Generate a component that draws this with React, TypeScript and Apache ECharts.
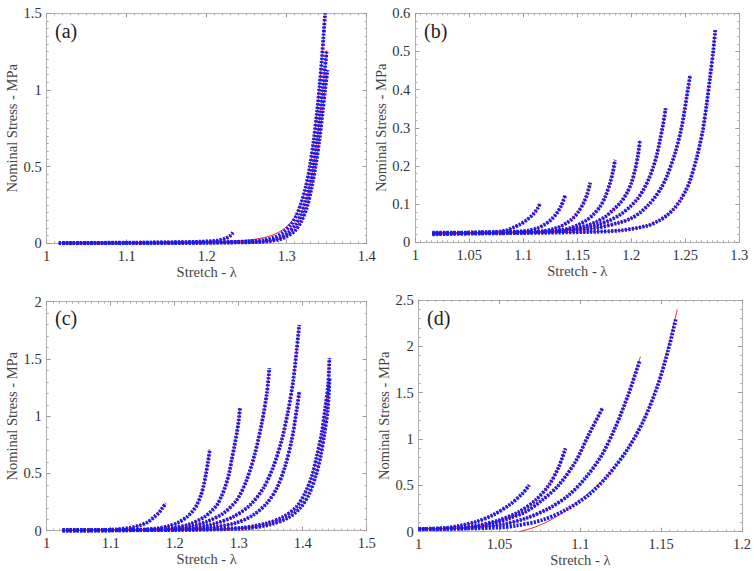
import React, { useEffect, useRef } from "react";
import * as echarts from "echarts";

type Pt = [number, number];

// ---------- Panel (a) ----------
const aXRange = [1, 1.4, 0.1];
const aYRange = [0, 1.5, 0.5];
const aCurve1: Pt[] = [[1.015,0.002],[1.05,0.003],[1.1,0.004],[1.15,0.006],[1.19,0.01],[1.205,0.014],[1.215,0.02],[1.224,0.033],[1.229,0.048],[1.233,0.07]];
const aCurve2: Pt[] = [[1.015,0.001],[1.1,0.003],[1.2,0.006],[1.25,0.012],[1.27,0.02],[1.285,0.04],[1.295,0.07],[1.305,0.12],[1.312,0.18],[1.318,0.26],[1.324,0.37],[1.329,0.5],[1.334,0.68],[1.338,0.86],[1.341,1.02],[1.344,1.2],[1.346,1.35],[1.348,1.5]];
const aCurve3: Pt[] = [[1.02,0.001],[1.1,0.002],[1.2,0.005],[1.26,0.01],[1.28,0.02],[1.293,0.04],[1.302,0.07],[1.311,0.12],[1.318,0.19],[1.324,0.28],[1.329,0.38],[1.333,0.5],[1.338,0.68],[1.342,0.86],[1.345,1.0],[1.348,1.15],[1.35,1.26]];
const aCurve4: Pt[] = [[1.02,0.0],[1.1,0.002],[1.2,0.004],[1.27,0.01],[1.29,0.025],[1.3,0.045],[1.31,0.08],[1.318,0.14],[1.325,0.23],[1.331,0.36],[1.336,0.5],[1.341,0.68],[1.345,0.86],[1.348,1.0],[1.351,1.13]];
const aFit2: Pt[] = [[1.015,0.001],[1.1,0.003],[1.2,0.008],[1.24,0.016],[1.262,0.028],[1.278,0.046],[1.29,0.072],[1.3,0.11],[1.31,0.17],[1.318,0.26],[1.324,0.37],[1.329,0.5],[1.334,0.68],[1.338,0.86],[1.341,1.02],[1.344,1.2],[1.346,1.35],[1.348,1.5]];

// ---------- Panel (b) ----------
const bXRange = [1, 1.3, 0.05];
const bYRange = [0, 0.6, 0.1];
const bCurve1: Pt[] = [[1.016,0.022],[1.04,0.024],[1.06,0.025],[1.075,0.027],[1.085,0.032],[1.091,0.039],[1.097,0.047],[1.103,0.058],[1.109,0.073],[1.113,0.088],[1.1157,0.102]];
const bCurve2: Pt[] = [[1.016,0.023],[1.05,0.025],[1.08,0.026],[1.095,0.028],[1.105,0.031],[1.113,0.037],[1.12,0.047],[1.126,0.06],[1.131,0.076],[1.135,0.095],[1.139,0.124]];
const bCurve3: Pt[] = [[1.016,0.024],[1.05,0.025],[1.09,0.026],[1.11,0.027],[1.12,0.03],[1.128,0.035],[1.134,0.041],[1.141,0.052],[1.146,0.063],[1.151,0.08],[1.1556,0.102],[1.159,0.125],[1.162,0.156]];
const bCurve4: Pt[] = [[1.016,0.022],[1.06,0.025],[1.1,0.026],[1.125,0.028],[1.135,0.032],[1.143,0.037],[1.151,0.046],[1.1587,0.058],[1.165,0.073],[1.171,0.093],[1.176,0.12],[1.1803,0.155],[1.183,0.185],[1.185,0.216]];
const bCurve5: Pt[] = [[1.016,0.025],[1.06,0.025],[1.1,0.026],[1.13,0.029],[1.1494,0.037],[1.16,0.045],[1.168,0.054],[1.176,0.067],[1.1833,0.085],[1.19,0.104],[1.1957,0.128],[1.2,0.155],[1.2034,0.189],[1.206,0.225],[1.2081,0.268]];
const bCurve6: Pt[] = [[1.016,0.023],[1.06,0.025],[1.1,0.026],[1.14,0.031],[1.1587,0.039],[1.17,0.047],[1.1803,0.058],[1.19,0.073],[1.1988,0.093],[1.2055,0.113],[1.2111,0.137],[1.216,0.165],[1.2204,0.198],[1.2237,0.23],[1.2266,0.268],[1.2295,0.31],[1.2318,0.351]];
const bCurve7: Pt[] = [[1.016,0.024],[1.06,0.025],[1.11,0.027],[1.14,0.03],[1.1648,0.036],[1.1895,0.052],[1.2,0.063],[1.2081,0.078],[1.2155,0.097],[1.2219,0.118],[1.2278,0.143],[1.2328,0.172],[1.2405,0.233],[1.2467,0.303],[1.2513,0.381],[1.2545,0.438]];
const bCurve8: Pt[] = [[1.016,0.021],[1.06,0.023],[1.12,0.025],[1.16,0.027],[1.1895,0.031],[1.2143,0.043],[1.225,0.056],[1.2328,0.07],[1.2395,0.088],[1.2451,0.109],[1.2503,0.135],[1.2543,0.161],[1.2606,0.222],[1.2661,0.292],[1.2698,0.362],[1.2729,0.432],[1.2759,0.502],[1.2778,0.556]];

// ---------- Panel (c) ----------
const cXRange = [1, 1.5, 0.1];
const cYRange = [0, 2, 0.5];
const cCurve1: Pt[] = [[1.025,0.002],[1.08,0.005],[1.11,0.012],[1.13,0.025],[1.145,0.045],[1.158,0.075],[1.167,0.115],[1.175,0.155],[1.181,0.2],[1.186,0.24]];
const cCurve2: Pt[] = [[1.025,0.002],[1.1,0.004],[1.15,0.01],[1.172,0.02],[1.19,0.04],[1.205,0.07],[1.219,0.12],[1.228,0.17],[1.235,0.23],[1.241,0.31],[1.245,0.39],[1.249,0.5],[1.252,0.6],[1.255,0.71]];
const cCurve3: Pt[] = [[1.025,0.002],[1.12,0.005],[1.17,0.01],[1.198,0.024],[1.224,0.058],[1.247,0.122],[1.257,0.17],[1.266,0.224],[1.273,0.3],[1.279,0.384],[1.285,0.5],[1.289,0.618],[1.293,0.73],[1.297,0.85],[1.3,0.96],[1.302,1.07]];
const cCurve4: Pt[] = [[1.025,0.002],[1.13,0.006],[1.19,0.015],[1.224,0.035],[1.25,0.079],[1.276,0.152],[1.297,0.268],[1.3125,0.443],[1.3255,0.676],[1.336,0.938],[1.344,1.2],[1.348,1.42]];
const cCurve5: Pt[] = [[1.025,0.002],[1.15,0.006],[1.2,0.012],[1.224,0.02],[1.2603,0.058],[1.2916,0.122],[1.3177,0.224],[1.3384,0.37],[1.3541,0.559],[1.3672,0.792],[1.3775,1.054],[1.3853,1.316],[1.3906,1.578],[1.3947,1.796]];
const cCurve6: Pt[] = [[1.025,0.002],[1.15,0.005],[1.22,0.014],[1.2603,0.03],[1.2969,0.07],[1.3228,0.137],[1.3438,0.239],[1.3594,0.37],[1.3723,0.559],[1.3828,0.792],[1.3906,1.054],[1.3947,1.214]];
const cCurve7: Pt[] = [[1.025,0.001],[1.2,0.008],[1.302,0.024],[1.3438,0.065],[1.3697,0.122],[1.3906,0.21],[1.4036,0.327],[1.4141,0.472],[1.4219,0.646],[1.4297,0.851],[1.4348,1.054],[1.44,1.287],[1.4417,1.506]];
const cCurve8: Pt[] = [[1.025,0.001],[1.2,0.006],[1.31,0.02],[1.35,0.055],[1.378,0.115],[1.397,0.205],[1.41,0.32],[1.42,0.47],[1.428,0.65],[1.434,0.85],[1.439,1.05],[1.442,1.33]];

// ---------- Panel (d) ----------
const dXRange = [1, 1.2, 0.05];
const dYRange = [0, 2.5, 0.5];
const dCurve1: Pt[] = [[1.0,0.03],[1.0153,0.036],[1.0255,0.065],[1.0357,0.108],[1.0459,0.18],[1.0561,0.288],[1.0643,0.414],[1.0684,0.504]];
const dCurve2: Pt[] = [[1.0,0.03],[1.0214,0.036],[1.0357,0.065],[1.05,0.126],[1.0622,0.216],[1.0724,0.342],[1.0806,0.504],[1.0867,0.701],[1.0908,0.899]];
const dCurve3: Pt[] = [[1.0,0.03],[1.03,0.036],[1.046,0.09],[1.056,0.144],[1.0663,0.216],[1.0765,0.342],[1.0867,0.504],[1.097,0.755],[1.105,1.04],[1.1139,1.338]];
const dCurve4: Pt[] = [[1.0,0.03],[1.035,0.045],[1.052,0.079],[1.0663,0.144],[1.0806,0.252],[1.0929,0.396],[1.103,0.576],[1.1133,0.827],[1.1214,1.115],[1.1296,1.475],[1.1367,1.842]];
const dFit4: Pt[] = [[1.035,0.045],[1.052,0.079],[1.0663,0.144],[1.0806,0.252],[1.0929,0.396],[1.103,0.576],[1.1133,0.827],[1.1214,1.115],[1.1296,1.475],[1.1372,1.889]];
const dCurve5: Pt[] = [[1.0,0.03],[1.03,0.035],[1.05,0.045],[1.0602,0.065],[1.0765,0.126],[1.0908,0.234],[1.1051,0.396],[1.1173,0.612],[1.1296,0.899],[1.1398,1.223],[1.148,1.583],[1.1541,1.942],[1.1592,2.302]];
const dFit5: Pt[] = [[1.062,0.0],[1.072,0.05],[1.082,0.13],[1.092,0.24],[1.102,0.37],[1.11,0.49],[1.1173,0.612],[1.1296,0.9],[1.1398,1.23],[1.148,1.6],[1.1541,1.97],[1.16,2.4]];

const LABEL_FONT = "'Liberation Serif', 'DejaVu Serif', serif";
const BLUE = "#1a1af0";
const RED = "#f02828";
const FRAME = "#b0b0b0";

interface Panel {
  grid: { left: number; top: number; width: number; height: number };
  xr: number[];
  yr: number[];
  xMinor: number;
  yMinor: number;
  curves: Pt[][];
  fits: (Pt[] | null)[];
  label: string;
  labelPos: [number, number];
}

const panels: Panel[] = [
  { grid: { left: 46.7, top: 13.3, width: 320, height: 230 }, xr: aXRange, yr: aYRange, xMinor: 10, yMinor: 10,
    curves: [aCurve1, aCurve2, aCurve3, aCurve4], fits: [null, aFit2, null, null], label: "(a)", labelPos: [55, 21] },
  { grid: { left: 415.3, top: 13.3, width: 324, height: 229 }, xr: bXRange, yr: bYRange, xMinor: 10, yMinor: 5,
    curves: [bCurve1, bCurve2, bCurve3, bCurve4, bCurve5, bCurve6, bCurve7, bCurve8], fits: [], label: "(b)", labelPos: [424, 21] },
  { grid: { left: 46.7, top: 301.7, width: 320, height: 229 }, xr: cXRange, yr: cYRange, xMinor: 10, yMinor: 5,
    curves: [cCurve1, cCurve2, cCurve3, cCurve4, cCurve5, cCurve6, cCurve7, cCurve8], fits: [], label: "(c)", labelPos: [55, 308] },
  { grid: { left: 418.7, top: 300, width: 326.6, height: 231.7 }, xr: dXRange, yr: dYRange, xMinor: 10, yMinor: 5,
    curves: [dCurve1, dCurve2, dCurve3, dCurve4, dCurve5], fits: [null, null, null, dFit4, dFit5], label: "(d)", labelPos: [427, 308] },
];

function buildOption() {
  const grid: any[] = [];
  const xAxis: any[] = [];
  const yAxis: any[] = [];
  const blueSeries: any[] = [];
  const redSeries: any[] = [];
  const graphic: any[] = [];

  panels.forEach((p, i) => {
    grid.push({ ...p.grid, containLabel: false });
    const common = {
      type: "value",
      gridIndex: i,
      splitLine: { show: false },
      axisLine: { show: true, onZero: false, lineStyle: { color: FRAME, width: 1 } },
      axisTick: { show: true, inside: true, length: 4, lineStyle: { color: "#999" } },
    };
    const label = { color: "#333", fontFamily: LABEL_FONT, fontSize: 14.5, margin: 5 };
    const nameStyle = { color: "#444", fontFamily: LABEL_FONT, fontSize: 14.5 };
    const minor = (n: number) => ({ show: true, splitNumber: n, length: 2, lineStyle: { color: "#aaa" } });
    xAxis.push({
      ...common, position: "bottom", min: p.xr[0], max: p.xr[1], interval: p.xr[2],
      minorTick: minor(p.xMinor),
      axisLabel: label,
      name: "Stretch - λ", nameLocation: "middle", nameGap: 21, nameTextStyle: nameStyle,
    });
    xAxis.push({
      ...common, position: "top", min: p.xr[0], max: p.xr[1], interval: p.xr[2],
      minorTick: minor(p.xMinor),
      axisLabel: { show: false },
    });
    yAxis.push({
      ...common, position: "left", min: p.yr[0], max: p.yr[1], interval: p.yr[2],
      minorTick: minor(p.yMinor),
      axisLabel: label,
      name: "Nominal Stress - MPa", nameLocation: "middle", nameGap: 26, nameTextStyle: nameStyle,
    });
    yAxis.push({
      ...common, position: "right", min: p.yr[0], max: p.yr[1], interval: p.yr[2],
      minorTick: minor(p.yMinor),
      axisLabel: { show: false },
    });

    p.curves.forEach((c, j) => {
      blueSeries.push({
        type: "line", xAxisIndex: 2 * i, yAxisIndex: 2 * i, data: c, smooth: 0.3,
        showSymbol: false, silent: true, z: 3,
        lineStyle: { color: BLUE, width: 3.8, type: [2.2, 1.3] },
      });
      const fit = p.fits[j] || c;
      redSeries.push({
        type: "line", xAxisIndex: 2 * i, yAxisIndex: 2 * i, data: fit, smooth: 0.3,
        showSymbol: false, silent: true, z: 2,
        lineStyle: { color: RED, width: 1 },
      });
    });

    graphic.push({
      type: "text", left: p.labelPos[0], top: p.labelPos[1],
      style: { text: p.label, fill: "#222", font: `20px ${LABEL_FONT}` },
    });
  });

  return {
    animation: false,
    backgroundColor: "#fff",
    grid, xAxis, yAxis,
    series: [...redSeries, ...blueSeries],
    graphic,
  };
}

export default function App() {
  const ref = useRef<HTMLDivElement>(null);
  useEffect(() => {
    if (!ref.current) return;
    const chart = echarts.init(ref.current, null, { renderer: "svg" });
    chart.setOption(buildOption() as any);
    return () => chart.dispose();
  }, []);
  return (
    <div
      ref={ref}
      style={{ position: "absolute", left: 0, top: 0, width: 754, height: 571, background: "#fff" }}
    />
  );
}
